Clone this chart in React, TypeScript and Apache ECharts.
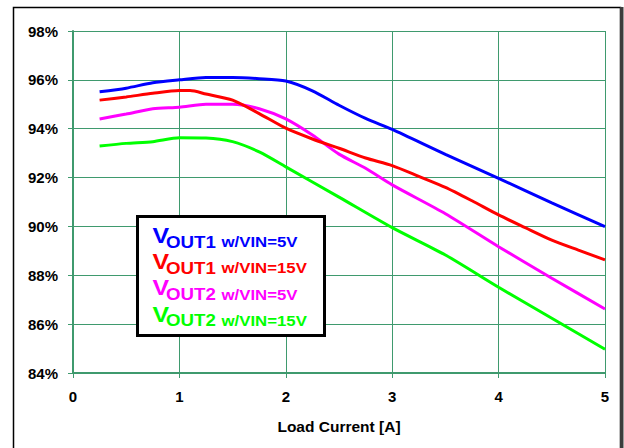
import React, { useEffect, useRef } from "react";
import * as echarts from "echarts";

const yTicks = [84, 86, 88, 90, 92, 94, 96, 98];
const xTicks = [0, 1, 2, 3, 4, 5];

const vout1Vin5X = [0.25, 0.5, 0.75, 1.0, 1.25, 1.5, 1.75, 2.0, 2.25, 2.5, 2.75, 3.0, 3.5, 4.0, 4.5, 5.0];
const vout1Vin5Y = [95.51, 95.66, 95.88, 96.0, 96.1, 96.1, 96.05, 95.95, 95.55, 94.96, 94.42, 93.97, 92.95, 91.97, 90.96, 89.99];

const vout1Vin15X = [0.25, 0.5, 0.75, 1.0, 1.1, 1.25, 1.5, 1.75, 2.0, 2.25, 2.5, 2.75, 3.0, 3.25, 3.5, 3.75, 4.0, 4.25, 4.5, 4.75, 5.0];
const vout1Vin15Y = [95.17, 95.3, 95.45, 95.56, 95.56, 95.42, 95.17, 94.62, 94.02, 93.58, 93.2, 92.8, 92.49, 92.05, 91.6, 91.05, 90.47, 89.95, 89.44, 89.03, 88.63];

const vout2Vin5X = [0.25, 0.5, 0.75, 1.0, 1.25, 1.5, 1.75, 2.0, 2.25, 2.5, 2.75, 3.0, 3.5, 4.0, 4.5, 5.0];
const vout2Vin5Y = [94.4, 94.6, 94.82, 94.88, 95.0, 95.0, 94.82, 94.4, 93.74, 92.96, 92.38, 91.7, 90.52, 89.17, 87.88, 86.62];

const vout2Vin15X = [0.25, 0.5, 0.75, 1.0, 1.25, 1.5, 1.75, 2.0, 2.5, 3.0, 3.5, 4.0, 4.5, 5.0];
const vout2Vin15Y = [93.29, 93.4, 93.47, 93.63, 93.62, 93.47, 93.05, 92.44, 91.2, 89.95, 88.83, 87.51, 86.24, 84.97];

const seriesNames = ["VOUT1 w/VIN=5V", "VOUT1 w/VIN=15V", "VOUT2 w/VIN=5V", "VOUT2 w/VIN=15V"];
const legendSub = ["OUT1", "OUT1", "OUT2", "OUT2"];
const legendCond = ["w/VIN=5V", "w/VIN=15V", "w/VIN=5V", "w/VIN=15V"];
const colors = ["#0000ff", "#ff0000", "#ff00ff", "#00ff00"];

const FONT = '"Liberation Sans", Arial, Helvetica, sans-serif';
const GREEN = "#3f9a6e";

const pairs = (xs: number[], ys: number[]) => xs.map((x, i) => [x, ys[i]]);

export default function App() {
  const ref = useRef<HTMLDivElement>(null);
  useEffect(() => {
    if (!ref.current) return;
    const chart = echarts.init(ref.current, null, { renderer: "svg" });
    const allX = [vout1Vin5X, vout1Vin15X, vout2Vin5X, vout2Vin15X];
    const allY = [vout1Vin5Y, vout1Vin15Y, vout2Vin5Y, vout2Vin15Y];

    const legendEls: any[] = [];
    for (let i = 0; i < 4; i++) {
      const cy = 235.5 + i * 26.2;
      legendEls.push({
        type: "text",
        x: 152.5,
        y: cy,
        scaleX: 1.13,
        z: 110,
        style: {
          text: "V",
          fill: colors[i],
          font: `bold 22px ${FONT}`,
          textAlign: "left",
          textVerticalAlign: "middle",
        },
      });
      legendEls.push({
        type: "text",
        x: 166,
        y: cy + 6.5,
        scaleX: 1.1,
        z: 110,
        style: {
          text: legendSub[i],
          fill: colors[i],
          font: `bold 17px ${FONT}`,
          textAlign: "left",
          textVerticalAlign: "middle",
        },
      });
      legendEls.push({
        type: "text",
        x: 221.5,
        y: cy + 6.5,
        scaleX: 1.12,
        z: 110,
        style: {
          text: legendCond[i],
          fill: colors[i],
          font: `bold 15px ${FONT}`,
          textAlign: "left",
          textVerticalAlign: "middle",
        },
      });
    }

    chart.setOption({
      animation: false,
      backgroundColor: "#ffffff",
      grid: { left: 73, right: 19, top: 31, bottom: 75, containLabel: false },
      xAxis: {
        type: "value",
        min: xTicks[0],
        max: xTicks[xTicks.length - 1],
        interval: 1,
        name: "Load Current [A]",
        nameLocation: "middle",
        nameGap: 45,
        nameTextStyle: { fontFamily: FONT, fontWeight: "bold", fontSize: 15.5, color: "#000" },
        axisLine: { show: true, lineStyle: { color: GREEN, width: 2 } },
        axisTick: { show: true, length: 5, lineStyle: { color: GREEN, width: 1 } },
        axisLabel: {
          margin: 16,
          fontFamily: FONT,
          fontWeight: "bold",
          fontSize: 15,
          color: "#000",
          formatter: (v: number) => String(v),
        },
        splitLine: { show: true, lineStyle: { color: GREEN, width: 1 } },
      },
      yAxis: {
        type: "value",
        min: yTicks[0],
        max: yTicks[yTicks.length - 1],
        interval: 2,
        axisLine: { show: true, lineStyle: { color: GREEN, width: 2 } },
        axisTick: { show: true, length: 5, lineStyle: { color: GREEN, width: 1 } },
        axisLabel: {
          margin: 15,
          fontFamily: FONT,
          fontWeight: "bold",
          fontSize: 15,
          color: "#000",
          formatter: (v: number) => `${v}%`,
        },
        splitLine: { show: true, lineStyle: { color: GREEN, width: 1 } },
      },
      series: seriesNames.map((name, i) => ({
        name,
        type: "line",
        data: pairs(allX[i], allY[i]),
        smooth: 0.25,
        showSymbol: false,
        symbol: "none",
        lineStyle: { color: colors[i], width: 3 },
        itemStyle: { color: colors[i] },
        z: 5 - i,
      })),
      graphic: {
        elements: [
          {
            type: "rect",
            shape: { x: 13.5, y: 7.5, width: 607, height: 460 },
            style: { fill: "none", stroke: "#000", lineWidth: 1.5 },
            z: 100,
            silent: true,
          },
          {
            type: "rect",
            shape: { x: 620, y: 7, width: 3.5, height: 441 },
            style: { fill: "#3c3c3c" },
            z: 100,
            silent: true,
          },
          {
            type: "rect",
            shape: { x: 137.5, y: 216.5, width: 187, height: 119 },
            style: { fill: "#ffffff", stroke: "#000", lineWidth: 3 },
            z: 105,
            silent: true,
          },
          ...legendEls,
        ],
      },
    });
    return () => chart.dispose();
  }, []);
  return (
    <div
      ref={ref}
      style={{ position: "fixed", left: 0, top: 0, width: 624, height: 448, background: "#fff" }}
    />
  );
}
